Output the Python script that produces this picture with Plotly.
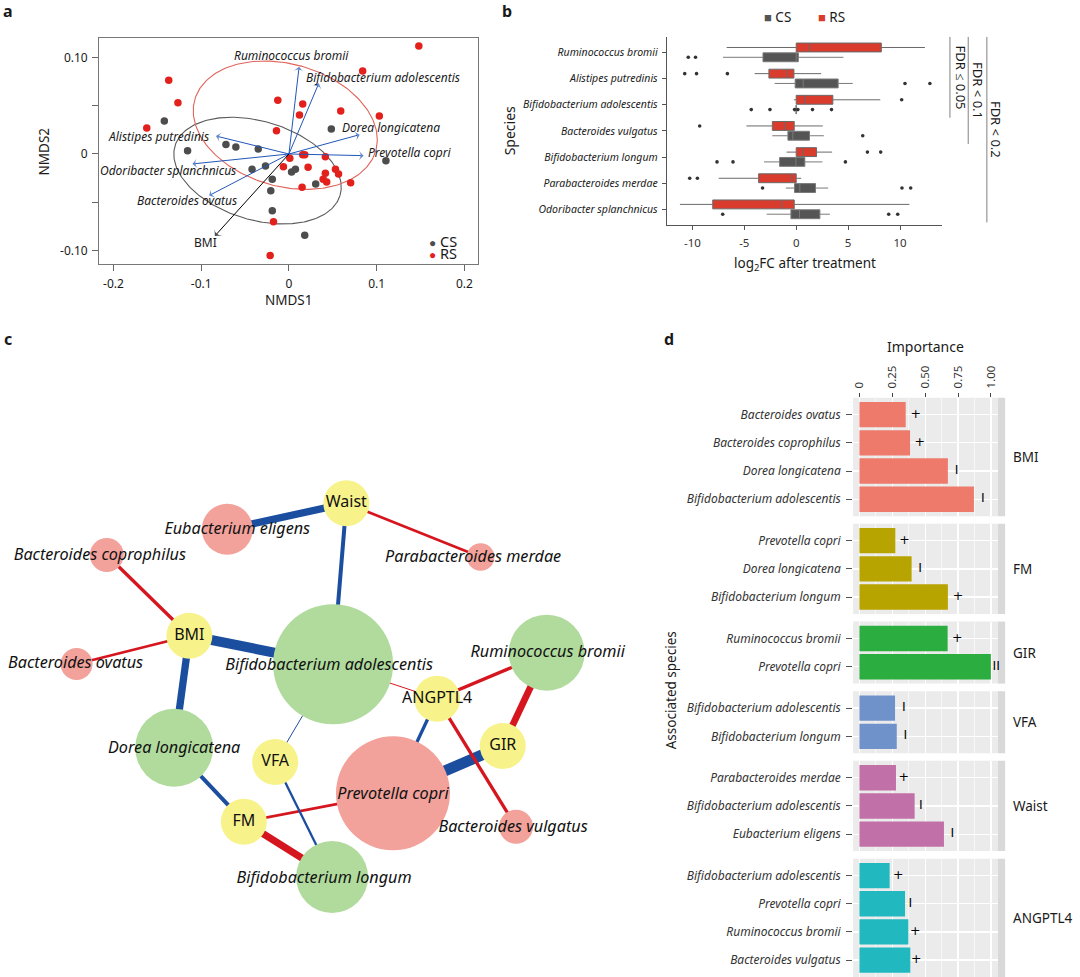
import numpy as np
import plotly.graph_objects as go

W, H = 1080, 977
FONT = "Noto Sans"
TXT = "#1a1a1a"


def px(x):
    return x / W


def py(y):
    return min(1.0, max(0.0, 1 - y / H))


# ======================= Panel a : NMDS ordination =======================
cs_nmds1 = [-0.142, -0.1155, -0.0718, -0.0605, -0.035, -0.042, -0.0267, -0.019,
            -0.0207, -0.019, 0.018, 0.003, 0.0074, 0.0305, 0.0483, 0.1105]
cs_nmds2 = [0.034, 0.0034, 0.0097, 0.0072, 0.0052, -0.0159, -0.0124, -0.026,
            -0.038, -0.0586, -0.084, -0.0186, -0.0159, -0.031, 0.0259, -0.0069]
rs_nmds1 = [0.148, 0.084, -0.137, -0.1265, -0.162, -0.0127, 0.0157, 0.012, 0.059,
            0.103, -0.0142, 0.001, 0.0157, 0.018, 0.0415, -0.0063, 0.0218, 0.0415,
            0.053, 0.0565, 0.039, 0.043, 0.0703, 0.015, -0.0176, -0.0214]
rs_nmds2 = [0.1117, 0.0859, 0.0762, 0.0531, 0.0269, 0.0555, 0.0517, 0.0403, 0.0445,
            0.0393, 0.0241, -0.0045, -0.0007, -0.0007, -0.0028, -0.0131, -0.0138, -0.02,
            -0.0159, -0.0207, -0.026, -0.029, -0.0297, -0.0345, -0.07, -0.105]

# group ellipses (centre in data units, semi-axes in screen px, tilt in degrees)
ell_group = ["CS", "RS"]
ell_cx = [-0.0358, -0.0042]
ell_cy = [-0.0172, 0.0298]
ell_a = [86.3, 94.2]
ell_b = [49.3, 61.2]
ell_tilt = [16.7, 15.7]

# fitted vectors
vec_names = ["Ruminococcus bromii", "Bifidobacterium adolescentis", "Dorea longicatena",
             "Prevotella copri", "Alistipes putredinis", "Odoribacter splanchnicus",
             "Bacteroides ovatus", "BMI"]
vec_x = [0.0116, 0.034, 0.0806, 0.085, -0.0832, -0.110, -0.091, -0.0844]
vec_y = [0.0903, 0.0731, 0.020, -0.0017, 0.0186, -0.0103, -0.043, -0.0848]
# label placement (style)
vec_lab_x = [0.0028, 0.0172, 0.0578, 0.0874, -0.0889, -0.0578, -0.057, -0.095]
vec_lab_y = [0.1017, 0.079, 0.0269, 0.0017, 0.0183, -0.0172, -0.0476, -0.092]
vec_lab_anchor = ["center", "left", "left", "left", "right", "right", "right", "center"]

# ======================= Panel b : log2FC boxplots =======================
species_b = ["Ruminococcus bromii", "Alistipes putredinis", "Bifidobacterium adolescentis",
             "Bacteroides vulgatus", "Bifidobacterium longum", "Parabacteroides merdae",
             "Odoribacter splanchnicus"]
rs_low = [-6.7, -4.0, -0.22, -4.8, -0.93, -7.47, -11.2]
rs_q1 = [0.0, -2.63, 0.0, -2.3, 0.0, -3.62, -8.04]
rs_med = [1.3, -0.83, 0.83, -1.12, 0.64, -0.42, -1.38]
rs_q3 = [8.2, -0.22, 3.53, -0.19, 1.96, 0.0, -0.19]
rs_high = [12.4, 2.4, 8.1, 2.56, 3.46, 0.48, 10.9]
rs_out = [[], [-10.74, -9.6, -6.63], [10.16], [-9.3], [6.86, 8.14], [-10.26, -9.52], []]
cs_low = [-7.05, -2.08, 0.0, -2.3, -3.1, -1.0, -2.85]
cs_q1 = [-3.2, -0.1, 0.0, -0.8, -1.6, -0.16, -0.51]
cs_med = [0.0, 0.67, 0.0, -0.32, -0.03, 0.35, 0.32]
cs_q3 = [0.2, 4.04, 0.0, 1.28, 0.83, 1.86, 2.28]
cs_high = [4.55, 5.45, 0.0, 2.66, 2.53, 3.08, 3.24]
cs_out = [[-10.4, -9.7], [10.48, 12.88], [-4.33, -2.53, -0.16, 0.16, 1.57, 3.4], [6.41],
          [-7.63, -6.09, 4.74], [-3.24, 10.19, 11.03], [-7.08, 8.91, 9.78]]
fdr_labels = ["FDR ≤ 0.05", "FDR < 0.1", "FDR < 0.2"]
fdr_n_species = [3, 4, 7]

# ======================= Panel d : importance =======================
facet_names = ["BMI", "FM", "GIR", "VFA", "Waist", "ANGPTL4"]
facet_colors = ["#EE7A6B", "#B8A400", "#2CAD3F", "#6F92CB", "#C170A8", "#22B8C0"]
d_var = ["BMI", "BMI", "BMI", "BMI", "FM", "FM", "FM", "GIR", "GIR", "VFA", "VFA",
         "Waist", "Waist", "Waist", "ANGPTL4", "ANGPTL4", "ANGPTL4", "ANGPTL4"]
d_species = ["Bacteroides ovatus", "Bacteroides coprophilus", "Dorea longicatena",
             "Bifidobacterium adolescentis", "Prevotella copri", "Dorea longicatena",
             "Bifidobacterium longum", "Ruminococcus bromii", "Prevotella copri",
             "Bifidobacterium adolescentis", "Bifidobacterium longum",
             "Parabacteroides merdae", "Bifidobacterium adolescentis", "Eubacterium eligens",
             "Bifidobacterium adolescentis", "Prevotella copri", "Ruminococcus bromii",
             "Bacteroides vulgatus"]
d_importance = [0.352, 0.385, 0.673, 0.871, 0.273, 0.397, 0.673, 0.671, 1.0, 0.271, 0.284,
                0.278, 0.420, 0.643, 0.230, 0.347, 0.372, 0.387]
d_sign = ["+", "+", "-", "-", "+", "-", "+", "+", "=", "-", "-", "+", "-", "-", "+", "-", "+", "+"]
d_mark_x = [0.428, 0.458, 0.739, 0.939, 0.342, 0.461, 0.749, 0.744, 1.04, 0.337, 0.349,
            0.337, 0.468, 0.706, 0.296, 0.387, 0.425, 0.433]
# widths of the network edges for the same pairs
edge_width = [2.7, 3.3, 7.3, 10, 2.7, 4, 7.3, 6.7, 11, 1, 2.3, 2.7, 4, 7.3, 1, 3.3, 3.3, 3.3]

# ======================= Panel c : network layout =======================
node_names = ["Waist", "BMI", "ANGPTL4", "GIR", "VFA", "FM",
              "Eubacterium eligens", "Bacteroides coprophilus", "Bacteroides ovatus",
              "Parabacteroides merdae", "Bifidobacterium adolescentis", "Ruminococcus bromii",
              "Prevotella copri", "Bacteroides vulgatus", "Dorea longicatena",
              "Bifidobacterium longum"]
node_kind = ["var"] * 6 + ["pink", "pink", "pink", "pink", "green", "green", "pink", "pink",
                           "green", "green"]
node_x = [345, 187.7, 436, 501.7, 273.7, 242.3, 225.7, 105, 74.7, 479.5, 331.7, 545.7,
          391.7, 515, 172.5, 330.7]
node_y = [503.3, 635.7, 698.7, 746, 762, 821.7, 529.3, 555, 664, 557, 664.3, 652.7,
          793.3, 826.7, 747.8, 877]
node_r = [23, 23, 23, 23, 23, 23, 25.5, 17, 16, 13.8, 60, 38, 57, 17, 39, 36]
node_lab_dx = [0, 0, 0, 0, 0, 0, 10, -7, -1, -7.5, -4, 1, 0, -3, 0, -8]
node_lab_dy = [0, 0, 0, 0, 0, 0, 1, 1, 0, 1, 1.4, 0, 1.7, 1, 1, 1.6]

kind_color = {"var": "#F7F38A", "pink": "#F2A19B", "green": "#B0DB9D"}
sign_color = {"+": "#D5161F", "-": "#1C4E9F", "=": "#1C4E9F"}
sign_glyph = {"+": "+", "-": "I", "=": "II"}

fig = go.Figure()

# ---------------- panel a traces ----------------
A_XPX = (97.3, 477.3)
A_YPX = (37.7, 264.0)
A_XR = [-0.2163, 0.2159]
A_YR = [-0.1138, 0.1203]
ux = (A_XR[1] - A_XR[0]) / (A_XPX[1] - A_XPX[0])
uy = (A_YR[1] - A_YR[0]) / (A_YPX[1] - A_YPX[0])
tt = np.linspace(0, 2 * np.pi, 240)
ell_colors = ["#5a5a5a", "#E0655C"]
for i in range(2):
    th = np.deg2rad(ell_tilt[i])
    sx = ell_a[i] * np.cos(tt) * np.cos(th) - ell_b[i] * np.sin(tt) * np.sin(th)
    sy = ell_a[i] * np.cos(tt) * np.sin(th) + ell_b[i] * np.sin(tt) * np.cos(th)
    fig.add_trace(go.Scatter(x=ell_cx[i] + sx * ux, y=ell_cy[i] - sy * uy, mode="lines",
                             line=dict(color=ell_colors[i], width=1.1), hoverinfo="skip",
                             showlegend=False, xaxis="x", yaxis="y"))
fig.add_trace(go.Scatter(x=cs_nmds1, y=cs_nmds2, mode="markers", name="CS",
                         marker=dict(size=7.5, color="#4d4d4d"), showlegend=False,
                         xaxis="x", yaxis="y"))
fig.add_trace(go.Scatter(x=rs_nmds1, y=rs_nmds2, mode="markers", name="RS",
                         marker=dict(size=7.5, color="#E3211C"), showlegend=False,
                         xaxis="x", yaxis="y"))

# vector arrows drawn as lines with arrow-head markers
for i, nm in enumerate(vec_names):
    col = "#000000" if nm == "BMI" else "#2256B8"
    fig.add_trace(go.Scatter(x=[0, vec_x[i]], y=[0, vec_y[i]], mode="lines+markers",
                             line=dict(color=col, width=1),
                             marker=dict(symbol=["circle", "arrow-wide"], size=[0, 7],
                                         angleref="previous", color=col,
                                         line=dict(width=0)),
                             showlegend=False, hoverinfo="skip", xaxis="x", yaxis="y"))

annotations = []
for i, nm in enumerate(vec_names):
    annotations.append(dict(x=vec_lab_x[i], y=vec_lab_y[i], xref="x", yref="y",
                            text=nm if nm == "BMI" else "<i>%s</i>" % nm, showarrow=False,
                            xanchor=vec_lab_anchor[i], yanchor="middle",
                            font=dict(family=FONT, size=12, color=TXT)))

# ---------------- panel b traces ----------------
nb = len(species_b)
pos_b = [nb - i for i in range(nb)]
OFF = 0.1875
pos_rs = [p + OFF for p in pos_b]
pos_cs = [p - OFF for p in pos_b]
fig.add_trace(go.Box(y=pos_rs, q1=rs_q1, median=rs_med, q3=rs_q3, lowerfence=rs_low,
                     upperfence=rs_high, orientation="h", width=0.34, whiskerwidth=0,
                     fillcolor="#D93B2D", line=dict(color="#6a6a6a", width=1),
                     boxpoints=False, name="RS", showlegend=False, hoverinfo="skip",
                     xaxis="x2", yaxis="y2"))
fig.add_trace(go.Box(y=pos_cs, q1=cs_q1, median=cs_med, q3=cs_q3, lowerfence=cs_low,
                     upperfence=cs_high, orientation="h", width=0.34, whiskerwidth=0,
                     fillcolor="#555555", line=dict(color="#7a7a7a", width=1),
                     boxpoints=False, name="CS", showlegend=False, hoverinfo="skip",
                     xaxis="x2", yaxis="y2"))
ox, oy = [], []
for i in range(nb):
    for v in rs_out[i]:
        ox.append(v)
        oy.append(pos_rs[i])
    for v in cs_out[i]:
        ox.append(v)
        oy.append(pos_cs[i])
fig.add_trace(go.Scatter(x=ox, y=oy, mode="markers", marker=dict(size=3.6, color="#333333"),
                         showlegend=False, hoverinfo="skip", xaxis="x2", yaxis="y2"))

# ---------------- panel c traces ----------------
node_index = {n: i for i, n in enumerate(node_names)}
for k in range(len(d_var)):
    a = node_index[d_var[k]]
    b = node_index[d_species[k]]
    fig.add_trace(go.Scatter(x=[node_x[a], node_x[b]], y=[node_y[a], node_y[b]],
                             mode="lines", line=dict(color=sign_color[d_sign[k]],
                                                     width=edge_width[k]),
                             showlegend=False, hoverinfo="skip", xaxis="x3", yaxis="y3"))
fig.add_trace(go.Scatter(x=node_x, y=node_y, mode="markers",
                         marker=dict(size=[2 * r for r in node_r],
                                     color=[kind_color[k] for k in node_kind],
                                     line=dict(width=0), opacity=1),
                         showlegend=False, hoverinfo="skip", xaxis="x3", yaxis="y3"))
var_idx = [i for i, k in enumerate(node_kind) if k == "var"]
sp_idx = [i for i, k in enumerate(node_kind) if k != "var"]
fig.add_trace(go.Scatter(x=[node_x[i] + node_lab_dx[i] for i in var_idx],
                         y=[node_y[i] + node_lab_dy[i] for i in var_idx],
                         mode="text", text=[node_names[i] for i in var_idx],
                         textposition="middle center", cliponaxis=False,
                         textfont=dict(family=FONT, size=16, color="#111111"),
                         showlegend=False, hoverinfo="skip", xaxis="x3", yaxis="y3"))
fig.add_trace(go.Scatter(x=[node_x[i] + node_lab_dx[i] for i in sp_idx],
                         y=[node_y[i] + node_lab_dy[i] for i in sp_idx],
                         mode="text", text=[node_names[i] for i in sp_idx],
                         textposition="middle center", cliponaxis=False,
                         textfont=dict(family=FONT, size=16.2, color="#111111", style="italic"),
                         showlegend=False, hoverinfo="skip", xaxis="x3", yaxis="y3"))

# ---------------- panel d traces ----------------
D_XPX = (852.7, 997.7)
D_XR = [-0.048, 1.053]
UNIT, GAP, TOP0 = 28.2, 7.6, 397.7
shapes = []
layout_axes = {}
top = TOP0
for f, fname in enumerate(facet_names):
    idx = [k for k in range(len(d_var)) if d_var[k] == fname]
    n = len(idx)
    bot = top + (n + 0.2) * UNIT
    xa = "x%d" % (4 + f)
    ya = "y%d" % (4 + f)
    names = [d_species[k] for k in idx]
    fig.add_trace(go.Bar(x=[d_importance[k] for k in idx], y=names, orientation="h",
                         width=0.9, marker=dict(color=facet_colors[f], line=dict(width=0)),
                         showlegend=False, hoverinfo="skip", xaxis=xa, yaxis=ya))
    fig.add_trace(go.Scatter(x=[d_mark_x[k] for k in idx], y=names, mode="text",
                             text=[sign_glyph[d_sign[k]] for k in idx],
                             textposition="middle center", cliponaxis=False,
                             textfont=dict(family="DejaVu Sans", size=12.5, color="#000000"),
                             showlegend=False, hoverinfo="skip", xaxis=xa, yaxis=ya))
    xkey = "xaxis%d" % (4 + f)
    ykey = "yaxis%d" % (4 + f)
    xdict = dict(domain=[px(D_XPX[0]), px(D_XPX[1])], range=D_XR, anchor=ya,
                 showgrid=True, gridcolor="white", gridwidth=1.3, zeroline=False,
                 showline=False, tickvals=[0, 0.25, 0.5, 0.75, 1.0],
                 minor=dict(dtick=0.125, tick0=0, showgrid=True, gridcolor="white",
                            gridwidth=0.6))
    if f == 0:
        xdict.update(side="top", ticks="outside", ticklen=4, tickcolor="#444",
                     ticktext=["0", "0.25", "0.50", "0.75", "1.00"], tickangle=-90,
                     tickfont=dict(family=FONT, size=11.5, color="#333"),
                     ticklabelstandoff=2)
    else:
        xdict.update(showticklabels=False, ticks="", matches="x4")
    layout_axes[xkey] = xdict
    layout_axes[ykey] = dict(domain=[py(bot), py(top)], anchor=xa, type="category",
                             categoryorder="array", categoryarray=names,
                             range=[n - 0.4, -0.6], showgrid=True, gridcolor="white",
                             gridwidth=1.3, zeroline=False, showline=False,
                             ticks="outside", ticklen=6, tickcolor="#555",
                             tickfont=dict(family=FONT, size=12, color="#333",
                                           style="italic"),
                             ticklabelstandoff=3)
    shapes.append(dict(type="rect", xref=xa + " domain", yref=ya + " domain", x0=0, x1=1,
                       y0=0, y1=1, fillcolor="#EBEBEB", line=dict(width=0), layer="below"))
    shapes.append(dict(type="rect", xref="paper", yref=ya + " domain", x0=px(997.7),
                       x1=px(1005), y0=0, y1=1, fillcolor="#D9D9D9", line=dict(width=0),
                       layer="below"))
    annotations.append(dict(x=px(1011), y=0.5, xref="paper", yref=ya + " domain",
                            text=fname, showarrow=False, xanchor="left", yanchor="middle",
                            font=dict(family=FONT, size=13.5, color=TXT)))
    top = bot + GAP

# ---------------- panel b brackets ----------------
fdr_line_px = [949.7, 968.0, 986.7]
fdr_text_px = [960.5, 978.0, 996.5]
for i, lab in enumerate(fdr_labels):
    ybot = nb - fdr_n_species[i] + 1 - 0.5
    shapes.append(dict(type="line", xref="paper", yref="y2", x0=px(fdr_line_px[i]),
                       x1=px(fdr_line_px[i]), y0=ybot, y1=7.6,
                       line=dict(color="#808080", width=1)))
    annotations.append(dict(x=px(fdr_text_px[i]), y=(ybot + 7.6) / 2, xref="paper",
                            yref="y2", text=lab, textangle=90, showarrow=False,
                            xanchor="center", yanchor="middle",
                            font=dict(family=FONT, size=13, color=TXT)))


def txt(x, y, s, size=13, angle=0, xanchor="center", color=TXT):
    return dict(x=px(x), y=py(y), xref="paper", yref="paper", text=s, showarrow=False,
                textangle=angle, xanchor=xanchor, yanchor="middle",
                font=dict(family=FONT, size=size, color=color))


def key(sym, col, symsize, label):
    return "<span style='color:%s;font-size:%dpx'>%s</span> %s" % (col, symsize, sym, label)


annotations += [
    txt(6, 11, "<b>a</b>", 16), txt(506, 11, "<b>b</b>", 16),
    txt(6, 339, "<b>c</b>", 16), txt(668, 339, "<b>d</b>", 16),
    txt(287.3, 300, "NMDS1", 13.5), txt(42.5, 151, "NMDS2", 13.5, -90),
    txt(804, 264, "log<sub>2</sub>FC after treatment", 13.5),
    txt(508.3, 131, "Species", 14, -90),
    txt(925, 346, "Importance", 14),
    txt(670.5, 690, "Associated species", 13.5, -90),
    # panel a key
    txt(426, 241, key("●", "#4d4d4d", 12, "CS"), 14.5, xanchor="left"),
    txt(426, 252.7, key("●", "#E3211C", 12, "RS"), 14.5, xanchor="left"),
    # panel b key
    txt(761.5, 17, key("■", "#555555", 13, "CS"), 13.5, xanchor="left"),
    txt(815.3, 17, key("■", "#D93B2D", 13, "RS"), 13.5, xanchor="left"),
]

fig.update_layout(
    width=W, height=H, autosize=False, margin=dict(l=0, r=0, t=0, b=0),
    paper_bgcolor="white", plot_bgcolor="white", boxmode="overlay", barmode="overlay",
    font=dict(family=FONT, size=11, color=TXT), showlegend=False, hovermode=False,
    xaxis=dict(domain=[px(A_XPX[0]), px(A_XPX[1])], range=A_XR, anchor="y",
               tickvals=[-0.2, -0.1, 0, 0.1, 0.2], ticktext=["-0.2", "-0.1", "0", "0.1", "0.2"],
               ticks="outside", ticklen=6, tickcolor="#666", showline=True, mirror=True,
               linecolor="#777", linewidth=1, showgrid=False, zeroline=False,
               tickfont=dict(family=FONT, size=12, color=TXT), ticklabelstandoff=3),
    yaxis=dict(domain=[py(A_YPX[1]), py(A_YPX[0])], range=A_YR, anchor="x",
               tickvals=[-0.1, -0.05, 0, 0.05, 0.1], ticktext=["-0.10", "", "0", "", "0.10"],
               ticks="outside", ticklen=6, tickcolor="#666", showline=True, mirror=True,
               linecolor="#777", linewidth=1, showgrid=False, zeroline=False,
               tickfont=dict(family=FONT, size=12, color=TXT), ticklabelstandoff=2),
    xaxis2=dict(domain=[px(666), px(942)], range=[-12.47, 14.07], anchor="y2",
                tickvals=[-10, -5, 0, 5, 10], ticktext=["-10", "-5", "0", "5", "10"],
                ticks="outside", ticklen=4, tickcolor="#555", showline=True,
                linecolor="#555", linewidth=1, showgrid=False, zeroline=False,
                tickfont=dict(family=FONT, size=11.5, color="#333"), ticklabelstandoff=3),
    yaxis2=dict(domain=[py(225), py(36.7)], range=[0.4, 7.6], anchor="x2",
                tickvals=pos_b, ticktext=species_b, ticks="outside", ticklen=4,
                tickcolor="#555", showline=True, linecolor="#555", linewidth=1,
                showgrid=False, zeroline=False,
                tickfont=dict(family=FONT, size=10.5, color="#222", style="italic"),
                ticklabelstandoff=2),
    xaxis3=dict(domain=[0, px(640)], range=[0, 640], anchor="y3", visible=False),
    yaxis3=dict(domain=[0, py(330)], range=[977, 330], anchor="x3", visible=False),
    shapes=shapes, annotations=annotations,
)
fig.update_layout(**layout_axes)

fig.write_html("out.html", config={"displayModeBar": False, "staticPlot": True},
               post_script="document.body.style.margin='0px';"
                           "document.body.style.overflow='hidden';")
